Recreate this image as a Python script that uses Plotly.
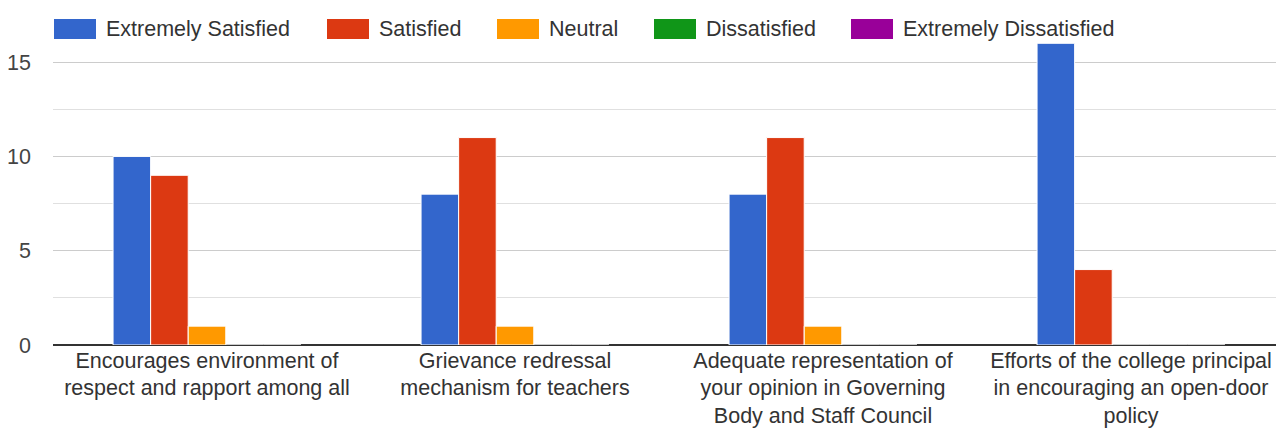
import plotly.graph_objects as go

categories = [
    "Encourages environment of respect and rapport among all",
    "Grievance redressal mechanism for teachers",
    "Adequate representation of your opinion in Governing Body and Staff Council",
    "Efforts of the college principal in encouraging an open-door policy",
]
tick_labels = [
    "Encourages environment of<br>respect and rapport among all",
    "Grievance redressal<br>mechanism for teachers",
    "Adequate representation of<br>your opinion in Governing<br>Body and Staff Council",
    "Efforts of the college principal<br>in encouraging an open-door<br>policy",
]
series_names = ["Extremely Satisfied", "Satisfied", "Neutral", "Dissatisfied", "Extremely Dissatisfied"]
extremely_satisfied = [10, 8, 8, 16]
satisfied = [9, 11, 11, 4]
neutral = [1, 1, 1, 0]
dissatisfied = [0, 0, 0, 0]
extremely_dissatisfied = [0, 0, 0, 0]
y_ticks = [0, 5, 10, 15]

colors = ["#3366cc", "#dc3912", "#ff9900", "#109618", "#990099"]
values = [extremely_satisfied, satisfied, neutral, dissatisfied, extremely_dissatisfied]

FONT = "Arial, Liberation Sans, sans-serif"
FS = 21.5

PAGE_W, PAGE_H = 1276, 429
PLOT_L, PLOT_R, PLOT_T, PLOT_B = 53, 1276, 15, 345
GROUP_PX = 308  # pixel width of one category slot; the last slot runs past the right edge

fig = go.Figure()
for name, vals, col in zip(series_names, values, colors):
    fig.add_trace(go.Bar(
        x=categories, y=vals, name=name, showlegend=False,
        marker=dict(color=col, line=dict(color="white", width=1)),
    ))

def px_x(px):
    return (px - PLOT_L) / (PLOT_R - PLOT_L)

def px_y(py):
    return (PLOT_B - py) / (PLOT_B - PLOT_T)

# legend drawn along the top of the plot
swatch_left = [54, 327, 497, 654, 851]
SW_W, SW_TOP, SW_BOT, TEXT_GAP = 42, 19, 39, 8
for name, col, sx in zip(series_names, colors, swatch_left):
    fig.add_shape(type="rect", xref="paper", yref="paper",
                  x0=px_x(sx), x1=px_x(sx + SW_W), y0=px_y(SW_BOT), y1=px_y(SW_TOP),
                  fillcolor=col, line=dict(width=0), layer="above")
    fig.add_annotation(xref="paper", yref="paper", x=px_x(sx + SW_W + TEXT_GAP),
                       y=px_y((SW_TOP + SW_BOT) / 2), text=name, showarrow=False,
                       xanchor="left", yanchor="middle",
                       font=dict(family=FONT, size=FS, color="#333333"))

x_span = (PLOT_R - PLOT_L) / GROUP_PX

fig.update_layout(
    width=PAGE_W, height=PAGE_H,
    margin=dict(l=PLOT_L, r=PAGE_W - PLOT_R, t=PLOT_T, b=PAGE_H - PLOT_B),
    paper_bgcolor="white", plot_bgcolor="white",
    barmode="group", bargap=0.39, bargroupgap=0,
    font=dict(family=FONT, size=FS, color="#444444"),
    showlegend=False,
    xaxis=dict(
        range=[-0.5, -0.5 + x_span],
        tickvals=categories, ticktext=tick_labels,
        tickfont=dict(size=FS, color="#333333"),
        showgrid=False, showline=False, ticks="",
    ),
    yaxis=dict(
        range=[0, 17.5], tickvals=y_ticks,
        tickfont=dict(size=FS, color="#444444"),
        showgrid=True, gridcolor="#cccccc", gridwidth=1,
        minor=dict(dtick=2.5, showgrid=True, gridcolor="#e0e0e0", gridwidth=1),
        zeroline=True, zerolinecolor="#333333", zerolinewidth=2,
        showline=False, ticks="", ticklabelstandoff=21,
    ),
)

fig.write_html(
    "out.html",
    config={"displayModeBar": False},
    post_script="document.body.style.margin='0';document.body.style.overflow='hidden';",
)
